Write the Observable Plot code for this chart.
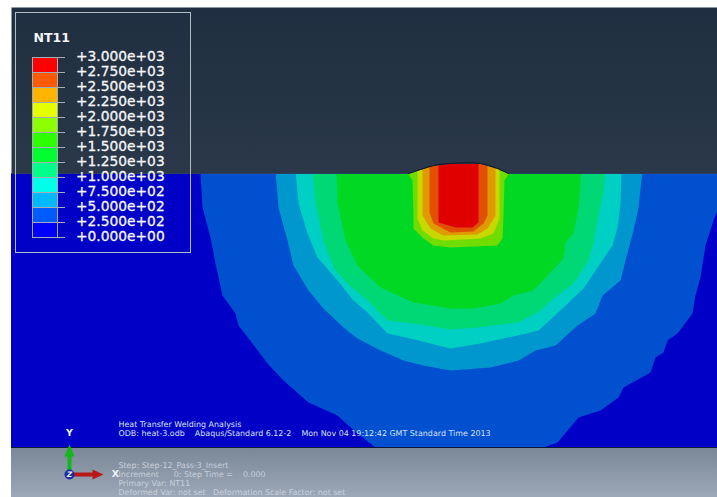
<!DOCTYPE html>
<html><head><meta charset="utf-8">
<script src="https://cdn.jsdelivr.net/npm/d3@7"></script>
<script src="https://cdn.jsdelivr.net/npm/@observablehq/plot@0.6"></script>
<style>html,body{margin:0;padding:0;background:#fff;overflow:hidden}svg{display:block}</style>
</head><body><div id="chart"></div>
<script>
const legendTitle = "NT11";
const legendLevels = [3000,2750,2500,2250,2000,1750,1500,1250,1000,750,500,250,0];
const legendLabels = ["+3.000e+03","+2.750e+03","+2.500e+03","+2.250e+03","+2.000e+03","+1.750e+03","+1.500e+03","+1.250e+03","+1.000e+03","+7.500e+02","+5.000e+02","+2.500e+02","+0.000e+00"];
const legendColors = ["#ff0000","#ff5a00","#ffb400","#e6ff00","#8cff00","#2eff00","#00ff2e","#00ff8b","#00ffe8","#00b9ff","#005cff","#0000ff"];

const captionTop = ["Heat Transfer Welding Analysis","ODB: heat-3.odb\u00a0\u00a0\u00a0\u00a0Abaqus/Standard 6.12-2\u00a0\u00a0\u00a0\u00a0Mon Nov 04 19:12:42 GMT Standard Time 2013"];
const captionBottom = ["Step: Step-12_Pass-3_Insert","Increment\u00a0\u00a0\u00a0\u00a0\u00a0\u00a00: Step Time =\u00a0\u00a0\u00a0\u00a00.000","Primary Var: NT11","Deformed Var: not set\u00a0\u00a0\u00a0Deformation Scale Factor: not set"];

// Contour boundaries, left to right (picture units)
const contour250 = [[200,170],[200,174],[202,207],[210,237],[215,263],[222,295],[235,313],[238,325],[252,343],[267,363],[283,380],[308,402],[337,415],[357,433],[375,447],[543,447],[557,442],[578,417],[600,410],[618,397],[623,387],[650,372],[655,357],[663,352],[667,340],[677,333],[692,313],[695,295],[700,277],[705,245],[713,220],[717,210],[717,170]];
const contour500 = [[275,170],[278,207],[287,240],[293,265],[308,290],[323,308],[343,327],[357,338],[380,350],[403,360],[423,365],[450,370],[490,367],[518,360],[535,350],[555,345],[577,325],[595,313],[602,295],[620,280],[625,260],[633,230],[638,207],[642,170]];
const contour750 = [[295,170],[298,203],[307,233],[317,257],[337,280],[353,300],[367,312],[387,333],[410,338],[450,348],[480,343],[517,335],[538,330],[563,307],[583,288],[597,267],[612,245],[617,227],[620,203],[621,170]];
const contour1000 = [[312,170],[315,203],[323,240],[333,267],[347,283],[367,300],[387,320],[413,323],[450,329],[477,327],[518,322],[537,312],[557,295],[573,283],[587,262],[593,243],[597,220],[603,193],[605,170]];
const contour1250 = [[336,170],[337,203],[345,240],[357,265],[380,287],[393,293],[413,302],[450,308],[473,308],[500,303],[513,295],[533,290],[550,272],[563,258],[565,242],[573,233],[578,207],[581,170]];
const contour1500 = [[408,160],[408,174],[412,180],[413,215],[413,228],[423,238],[433,245],[450,247],[497,245],[502,238],[503,215],[504,180],[508,174],[508,160]];
const contour1750 = [[417,160],[417,218],[422,230],[433,238],[443,240],[480,238],[493,233],[499,218],[499,160]];
const contour2000 = [[422,160],[422,215],[430,228],[443,235],[477,234],[487,228],[495,215],[495,160]];
const contour2250 = [[429,160],[429,212],[433,223],[450,232],[473,231],[483,223],[487,215],[487,160]];
const contour2500 = [[438,160],[438,222],[455,227],[472,227],[478,222],[478,160]];
const bands = [
  [contour250,"#0050cf"],[contour500,"#0097cf"],[contour750,"#00d0c4"],[contour1000,"#00d875"],[contour1250,"#00d823"],
  [contour1500,"#70dc00"],[contour1750,"#c8d800"],[contour2000,"#e09a00"],[contour2250,"#e05000"],[contour2500,"#e00000"]
];
const surface = [[11,173],[408,173],[420,169],[433,165],[450,163],[480,163],[497,168],[508,173],[717,173]];
const dome = surface.slice(1,8);

const gradient = () => {
  const defs = d3.create("svg:defs");
  const add = (id, a, b) => {
    const g = defs.append("linearGradient").attr("id",id).attr("x1",0).attr("x2",0).attr("y1",0).attr("y2",1);
    g.append("stop").attr("offset",0).attr("stop-color",a);
    g.append("stop").attr("offset",1).attr("stop-color",b);
  };
  add("sky","#1f2e40","#2a3849");
  add("floor","#7a8797","#9ca8b8");
  return defs.node();
};
const px = d=>d[0], py = d=>d[1];
const font = "DejaVu Sans, sans-serif";
const legendY = v => 57 + (3000 - v) / 250 * 15;

const chart = Plot.plot({
  width:717, height:497, margin:0,
  style:{background:"#fff", fontFamily:font},
  x:{domain:[0,717], range:[0,717], axis:null},
  y:{domain:[0,497], range:[0,497], axis:null},
  marks:[
    gradient,
    Plot.rect([0],{x1:()=>11,x2:()=>717,y1:()=>173,y2:()=>447,fill:"#0000c6"}),
    ...bands.map(([pts,c])=>Plot.line(pts,{x:px,y:py,fill:c,stroke:"none"})),
    Plot.line([[11,7],[717,7],...surface.slice().reverse()],{x:px,y:py,fill:"url(#sky)",stroke:"none"}),
    Plot.line(surface,{x:px,y:py,stroke:"#263f63",strokeWidth:1}),
    Plot.line(dome,{x:px,y:py,stroke:"#101820",strokeWidth:1,curve:"catmull-rom"}),
    Plot.rect([0],{x1:()=>11,x2:()=>717,y1:()=>447,y2:()=>497,fill:"url(#floor)"}),
    Plot.ruleY([447],{x1:11,x2:717,stroke:"#0b1a3a",strokeWidth:1}),
    // legend
    Plot.rect([0],{x1:()=>15.5,x2:()=>190.5,y1:()=>12.5,y2:()=>252.5,stroke:"#b4bcc4",fill:"none"}),
    Plot.rect(legendColors,{x1:()=>32,x2:()=>57,y1:(d,i)=>legendY(legendLevels[i]),y2:(d,i)=>legendY(legendLevels[i+1]),fill:d=>d}),
    Plot.ruleY(legendLevels,{y:legendY,x1:32,x2:65,stroke:"#a4acb4",strokeWidth:1}),
    Plot.ruleX([32,57],{x:d=>d,y1:57,y2:237,stroke:"#a4acb4",strokeWidth:1}),
    Plot.text([legendTitle],{x:()=>33,y:()=>37,text:d=>d,textAnchor:"start",fontSize:12.5,fontWeight:"bold",fill:"#f4f6f8",fontFamily:font}),
    Plot.text(legendLabels,{x:()=>75.5,y:(d,i)=>legendY(legendLevels[i])-1,text:d=>d,textAnchor:"start",fontSize:13.8,fill:"#f4f6f8",stroke:"#f4f6f8",strokeWidth:0.3,fontFamily:font}),
    // captions
    Plot.text(captionTop,{x:()=>118,y:(d,i)=>424+9*i,text:d=>d,textAnchor:"start",fontSize:7.95,fill:"#d8e0f0",fontFamily:font}),
    Plot.text(captionBottom,{x:()=>118,y:(d,i)=>465+9*i,text:d=>d,textAnchor:"start",fontSize:7.9,fill:"#c8d0da",fontFamily:font}),
    // triad
    Plot.text(["Y"],{x:()=>69,y:()=>432,text:d=>d,fontSize:9.5,fontWeight:"bold",fill:"#eef2f6",fontFamily:font}),
    Plot.text(["X"],{x:()=>115,y:()=>473,text:d=>d,fontSize:9.5,fontWeight:"bold",fill:"#eef2f6",fontFamily:font}),
    Plot.ruleX([69],{y1:474,y2:454,stroke:"#10b818",strokeWidth:4}),
    Plot.line([[64,456],[69,444],[74,456]],{x:px,y:py,fill:"#10b818",stroke:"none"}),
    Plot.ruleY([474],{x1:70,x2:93,stroke:"#b81818",strokeWidth:4}),
    Plot.line([[92,469],[103,474],[92,479]],{x:px,y:py,fill:"#b81818",stroke:"none"}),
    Plot.dot([[69,474]],{x:px,y:py,r:5,fill:"#1a2aa0",stroke:"none"}),
    Plot.text(["Z"],{x:()=>69,y:()=>474,text:d=>d,fontSize:7.5,fontWeight:"bold",fontStyle:"italic",fill:"#e6ebf2",fontFamily:font})
  ]
});
document.getElementById("chart").append(chart);
</script></body></html>
